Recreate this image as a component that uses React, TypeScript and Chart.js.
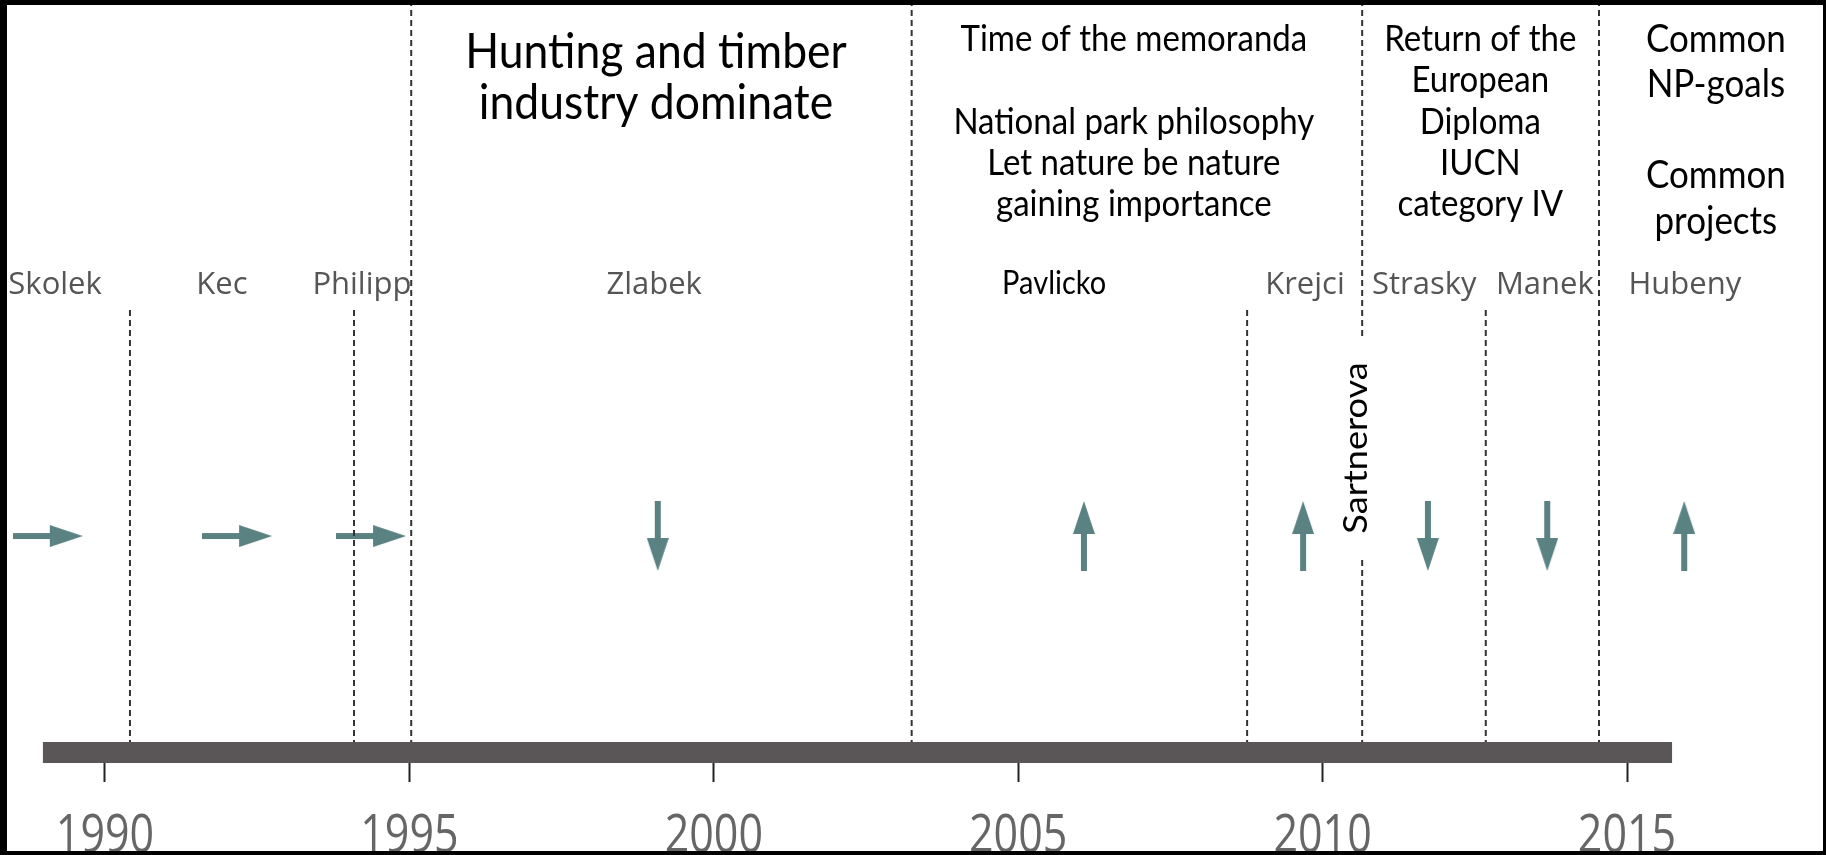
import React, { useEffect, useRef } from "react";
import { Chart, registerables } from "chart.js";

Chart.register(...registerables);

// ---------- data ----------
const TICK_YEARS = [1990, 1995, 2000, 2005, 2010, 2015];
const TIMELINE_START = 1988.98;
const TIMELINE_END = 2015.74;

const DIRECTORS = ["Skolek", "Kec", "Philipp", "Zlabek", "Pavlicko", "Krejci", "Strasky", "Manek", "Hubeny"];
const DIRECTOR_LABEL_YEARS = [1989.18, 1991.92, 1994.22, 1999.02, 2005.59, 2009.71, 2011.67, 2013.65, 2015.95];
const ARROW_YEARS = [1989.06, 1992.17, 1994.37, 1999.08, 2006.08, 2009.68, 2011.73, 2013.69, 2015.94];
const ARROW_DIRECTIONS = ["right", "right", "right", "down", "up", "up", "down", "down", "up"];

const DIRECTOR_CHANGES = [1990.41, 1994.09, 2008.76, 2012.68];
const PERIOD_CHANGES = [1995.03, 2003.25, 2010.65, 2014.54];

const INTERIM_NAME = "Sartnerova";
const INTERIM_YEAR = 2010.73;

const PERIOD_CENTERS = [1999.05, 2006.9, 2012.59, 2016.46];
const PERIOD_1_TEXT = ["Hunting and timber", "industry dominate"];
const PERIOD_2_TEXT = ["Time of the memoranda", "", "National park philosophy", "Let nature be nature", "gaining importance"];
const PERIOD_3_TEXT = ["Return of the", "European", "Diploma", "IUCN", "category IV"];
const PERIOD_4_TEXT = ["Common", "NP-goals", "", "Common", "projects"];

// ---------- layout / style ----------
const W = 1826;
const H = 855;
const X_MIN = 1988.2753;
const X_MAX = 2018.2687;
const AXIS_HEIGHT = 113;
const LV = { top: 100, base: 0, band: -1.415, arrows: 27.76, shortTop: 58.22, names: 60.38, interim: 39.62 };
const ARROW_COLOR = "#5b8282";
const BAND_COLOR = "#5a5657";
const DASH_COLOR = "#333333";
const CALIBRI_LIKE = "Lato, Carlito, Calibri, sans-serif";
const SEGOE_LIKE = "'Open Sans', 'Noto Sans', sans-serif";
const STRETCH = 1.1;
const PERIOD_STYLES = [
  { size: 44.5, first: 90.8, spacing: 51 },
  { size: 33, first: 93.1, spacing: 41.3 },
  { size: 33, first: 93.1, spacing: 41.3 },
  { size: 35, first: 93.0, spacing: 45.5 },
];
const BLACK_LABELS = new Set(["Pavlicko"]);
const ROTATIONS: Record<string, number> = { right: 0, down: 90, up: -90 };

function makeArrow(): HTMLCanvasElement {
  const c = document.createElement("canvas");
  c.width = 70;
  c.height = 22;
  const g = c.getContext("2d")!;
  g.fillStyle = ARROW_COLOR;
  g.fillRect(0, 8, 40, 6);
  g.beginPath();
  g.moveTo(37, 0);
  g.lineTo(70, 11);
  g.lineTo(37, 22);
  g.closePath();
  g.fill();
  return c;
}

function stretchedText(ctx: CanvasRenderingContext2D, t: string, x: number, y: number, sy: number) {
  ctx.save();
  ctx.translate(x, y);
  ctx.scale(1, sy);
  ctx.fillText(t, 0, 0);
  ctx.restore();
}

const textPlugin = {
  id: "timelineText",
  afterDatasetsDraw(chart: any) {
    const ctx: CanvasRenderingContext2D = chart.ctx;
    const xs = chart.scales.x;
    const ys = chart.scales.y;
    ctx.save();
    // period descriptions
    const periods = [PERIOD_1_TEXT, PERIOD_2_TEXT, PERIOD_3_TEXT, PERIOD_4_TEXT];
    periods.forEach((lines, i) => {
      const st = PERIOD_STYLES[i];
      const x = xs.getPixelForValue(PERIOD_CENTERS[i]);
      const y0 = ys.getPixelForValue(st.first);
      ctx.font = `${st.size}px ${CALIBRI_LIKE}`;
      ctx.fillStyle = "#000";
      ctx.textAlign = "center";
      ctx.textBaseline = "alphabetic";
      lines.forEach((t, j) => {
        if (t) stretchedText(ctx, t, x, y0 + j * st.spacing, STRETCH);
      });
    });
    // director names
    DIRECTORS.forEach((name, i) => {
      const x = xs.getPixelForValue(DIRECTOR_LABEL_YEARS[i]);
      const y = ys.getPixelForValue(LV.names);
      ctx.textAlign = "center";
      ctx.textBaseline = "alphabetic";
      if (BLACK_LABELS.has(name)) {
        ctx.font = `29px ${CALIBRI_LIKE}`;
        ctx.fillStyle = "#000";
        stretchedText(ctx, name, x, y, STRETCH);
      } else {
        ctx.font = `31px ${SEGOE_LIKE}`;
        ctx.fillStyle = "#555";
        ctx.fillText(name, x, y);
      }
    });
    // tick labels
    ctx.font = `43px ${SEGOE_LIKE}`;
    ctx.fillStyle = "#666";
    ctx.textAlign = "center";
    ctx.textBaseline = "alphabetic";
    xs.ticks.forEach((t: any) => {
      stretchedText(ctx, String(t.value), xs.getPixelForValue(t.value), H - 3, 1.25);
    });
    // interim director, rotated, on a white ground
    const ix = xs.getPixelForValue(INTERIM_YEAR);
    const iy = ys.getPixelForValue(LV.interim);
    ctx.translate(ix, iy);
    ctx.rotate(-Math.PI / 2);
    ctx.font = `32px ${CALIBRI_LIKE}`;
    const w = ctx.measureText(INTERIM_NAME).width * 1.13;
    ctx.fillStyle = "#fff";
    ctx.fillRect(-w / 2 - 24, -30, w + 48, 38);
    ctx.fillStyle = "#000";
    ctx.textAlign = "center";
    ctx.textBaseline = "alphabetic";
    ctx.scale(1.13, 1);
    ctx.fillText(INTERIM_NAME, 0, 0);
    ctx.restore();
  },
  afterDraw(chart: any) {
    const ctx: CanvasRenderingContext2D = chart.ctx;
    ctx.save();
    ctx.fillStyle = "#000";
    ctx.fillRect(0, 0, W, 5);
    ctx.fillRect(0, 0, 7, H);
    ctx.fillRect(W - 3, 0, 3, H);
    ctx.fillRect(0, H - 4, W, 4);
    ctx.restore();
  },
};

export default function App() {
  const ref = useRef<HTMLCanvasElement>(null);
  useEffect(() => {
    const canvas = ref.current!;
    const arrow = makeArrow();
    const dashed = (x: number, yTop: number) => ({
      data: [
        { x, y: yTop },
        { x, y: LV.base },
      ],
      showLine: true,
      borderColor: DASH_COLOR,
      borderWidth: 2,
      borderDash: [6, 4],
      pointRadius: 0,
      clip: false as any,
    });
    const chart = new Chart(canvas, {
      type: "scatter",
      data: {
        datasets: [
          ...PERIOD_CHANGES.map((x) => dashed(x, LV.top)),
          ...DIRECTOR_CHANGES.map((x) => dashed(x, LV.shortTop)),
          {
            data: [
              { x: TIMELINE_START, y: LV.band },
              { x: TIMELINE_END, y: LV.band },
            ],
            showLine: true,
            borderColor: BAND_COLOR,
            borderWidth: 21,
            borderCapStyle: "butt",
            pointRadius: 0,
            clip: false,
          } as any,
          {
            data: ARROW_YEARS.map((x) => ({ x, y: LV.arrows })),
            pointStyle: arrow as any,
            pointRotation: ARROW_DIRECTIONS.map((d) => ROTATIONS[d]),
            pointRadius: 10,
            showLine: false,
          } as any,
        ],
      },
      options: {
        responsive: false,
        animation: false,
        devicePixelRatio: 1,
        events: [],
        layout: { padding: 0, autoPadding: false },
        plugins: { legend: { display: false }, tooltip: { enabled: false } },
        scales: {
          x: {
            type: "linear",
            min: X_MIN,
            max: X_MAX,
            position: "bottom",
            z: 1,
            afterBuildTicks: (s: any) => {
              s.ticks = TICK_YEARS.map((v) => ({ value: v }));
            },
            afterFit: (s: any) => {
              s.height = AXIS_HEIGHT;
            },
            grid: { drawOnChartArea: false, drawTicks: true, tickLength: 40, tickWidth: 2, tickColor: "#222" },
            border: { display: false },
            ticks: { display: false, autoSkip: false, maxRotation: 0 },
          },
          y: { type: "linear", min: 0, max: 100, display: false },
        },
      } as any,
      plugins: [textPlugin],
    });
    return () => chart.destroy();
  }, []);
  return (
    <div style={{ position: "fixed", left: 0, top: 0, width: W, height: H, background: "#fff" }}>
      <canvas ref={ref} width={W} height={H} style={{ display: "block" }} />
    </div>
  );
}
